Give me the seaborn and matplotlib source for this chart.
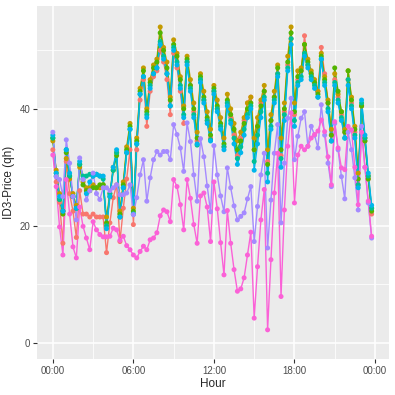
import numpy as np
import pandas as pd
import matplotlib
matplotlib.use("Agg")
import matplotlib.pyplot as plt
from matplotlib.ticker import FixedLocator
import seaborn as sns

# quarter-hour prices per series (96 values each)
red = [33, 27.5, 24, 17, 31, 25.5, 22.5, 18, 26, 22, 22, 21.5, 22, 21.5, 21.5, 21.5,
       15.4, 20.5, 24.8, 27, 17.3, 23, 28, 33, 20.2, 33, 41.5, 45, 37, 43, 45.5, 46.5,
       50, 48, 45, 39, 49.5, 47, 43, 37.5, 48, 44, 39.5, 34.5, 45, 41.5, 38, 35,
       43, 40, 37, 33.5, 41, 38.5, 35.5, 32, 35, 38, 41, 42, 33, 37, 41, 43,
       31, 38, 42, 46, 32, 39.5, 47.5, 52, 39, 45, 46.5, 52.5, 47.5, 46, 44.5, 43,
       50.5, 46, 41, 35.5, 45, 42, 39, 36, 45, 41, 36, 27, 40.5, 34.5, 28, 22]
olive = [34.5, 29.5, 25.5, 22.5, 31.5, 28, 25.5, 23.5, 30, 27.5, 26.5, 26.5, 27, 26.5, 26.5, 27,
         21.5, 25.5, 30, 32.5, 22.5, 27.5, 33.5, 37.5, 23, 35, 43.5, 47, 40, 45, 47.5, 48.5,
         54, 50.5, 48, 42, 51.8, 49.5, 45.5, 40.5, 49, 45, 41, 36, 46, 43, 39.5, 36.5,
         44, 41.5, 38.5, 35, 42.5, 40, 37.5, 34.5, 36, 38.5, 41, 42, 35, 38.5, 41.5, 44,
         33, 39, 43, 47.5, 35, 41, 49, 54, 41, 46.5, 47, 51, 48.5, 46.5, 45, 43,
         49.5, 45.5, 41.5, 36.5, 46, 42.5, 39.5, 36.5, 46.5, 42, 37, 29, 40.5, 35, 28.5, 23]
green = [35, 29, 24.5, 22, 32.5, 28.5, 25, 23, 30.5, 27, 26, 26, 26.5, 26.5, 27, 27,
         20.5, 25, 29.5, 32, 22, 27, 33, 37, 22.5, 34.5, 43, 46.5, 39.5, 44.5, 47, 48,
         53, 50, 47, 41.5, 51, 49, 45, 40, 48.5, 44, 40, 35, 45.5, 42, 38.5, 35.5,
         43.5, 40.5, 37.5, 34, 41.5, 39, 36.5, 33, 34.5, 37.5, 40, 41, 33, 37, 40.5, 43,
         30.5, 38, 42, 47, 33, 40, 48, 53, 39.5, 45.5, 46.5, 51, 48, 46, 44.5, 42.5,
         49, 45, 41, 35.5, 47, 43, 39.5, 36, 46.5, 41.5, 36.5, 28, 40.5, 34.5, 28, 22.5]
teal = [35, 28.5, 24.5, 22.5, 33, 28.5, 25, 23, 30.5, 28.5, 28.5, 28.8, 28.5, 28.8, 28.5, 28,
        20, 25.5, 29.5, 32.5, 21.5, 26.5, 32.5, 36.5, 22, 34, 42.5, 45.5, 39, 44, 46, 47,
        51.5, 49, 46, 40.5, 50.5, 48, 44, 39, 48, 43.5, 39, 33.8, 45, 41.5, 38, 34.7,
        43, 40, 37, 33.5, 41, 38, 35, 31.5, 33.5, 36.5, 39, 40.5, 31, 35.5, 39.5, 42,
        29, 37, 41.5, 46, 31.5, 39, 47, 52, 38, 44.5, 45.5, 49.5, 47.5, 45.5, 44, 42,
        48.5, 44.5, 40, 34.5, 44.5, 41.5, 38.5, 35, 45, 40.5, 35.5, 27, 41, 35, 28.5, 23]
cyan = [35.5, 29, 25, 22.5, 33, 29, 25, 23, 31, 28, 25.5, 27.5, 28.5, 28.8, 28.5, 28.5,
        19.5, 25, 30, 33, 21.5, 26.5, 32.5, 36.5, 22, 34, 42.5, 45.5, 38.5, 43.5, 46, 47,
        51, 48.5, 46, 40.5, 50, 47.5, 43.5, 38.5, 47.5, 43, 38.5, 34, 44.5, 41, 37.5, 34.5,
        42.5, 39.5, 36.5, 33, 40.5, 37.5, 34, 30.5, 32.5, 35.5, 38.5, 40, 29.5, 34, 38.5, 41.5,
        27.5, 36.5, 41, 45.5, 30, 38, 46.5, 51, 37, 44, 45, 49, 47, 45, 43.5, 42,
        48.5, 44, 39.5, 34.5, 44, 41, 38, 35, 44, 40, 35, 26.5, 41.5, 35.5, 29, 23.5]
purple = [36, 28.4, 27.9, 25, 34.7, 30.7, 25, 21, 31.6, 27.9, 24.4, 26, 29, 25.5, 24.5, 26.5,
          26.5, 26, 26.5, 27, 25.3, 25.3, 25.6, 27, 21.9, 24.8, 28.7, 31.3, 24.2, 28.2, 31.3, 32.7,
          32.1, 32.7, 32.7, 31.3, 37.3, 35.6, 33.3, 29.3, 37.6, 34.4, 28.7, 24.2, 34.9, 31.8, 26.8, 22.4,
          33.7, 28.7, 25.1, 22.4, 29.9, 26.5, 23.4, 21, 21.6, 22.2, 24.6, 26.7, 17.3, 23.3, 28.7, 32.4,
          16.2, 24.4, 32.4, 37.3, 20.5, 30.7, 38.4, 41.8, 31.3, 35.3, 38.4, 39.5, 33.6, 37, 35.5, 33.3,
          40.7, 35.5, 30.7, 26.7, 37.5, 33, 28.4, 24.6, 36, 33, 28.2, 22.7, 37, 30, 23.9, 17.9]
pink = [32.1, 26.7, 19.8, 15, 27.9, 22, 16.4, 14.5, 23.2, 19.9, 17.9, 15.9, 20.7, 19.3, 18.5, 18.1,
        18.1, 18.2, 19.6, 19.3, 17.5, 18.2, 16.6, 15.9, 15, 14.5, 15.6, 16.5, 15.9, 17.6, 17.9, 18.8,
        21.7, 22.7, 22.4, 20.7, 27.9, 26.7, 23.6, 19.3, 27.9, 24.7, 20.2, 17, 25.1, 25.6, 23.2, 17.3,
        27.5, 22.9, 17.1, 11.6, 22.6, 17, 12.5, 8.8, 9.2, 11.1, 15, 18.9, 4.2, 13, 21, 26.2,
        2.2, 14.2, 25.6, 32.4, 7.9, 22.7, 33.6, 39.3, 23.9, 32.1, 33.6, 33, 33.6, 35, 35.6, 36.2,
        38.1, 36.1, 31.8, 27, 37.8, 33.3, 29.9, 29.6, 37, 36.4, 30, 23.6, 36, 30, 24.2, 18.2]

series = {"d1": red, "d2": olive, "d3": green, "d4": teal,
          "d5": cyan, "d6": purple, "d7": pink}
palette = ["#F8766D", "#C49A00", "#53B400", "#00C094", "#00B6EB", "#A58AFF", "#FB61D7"]

hour_ticks = [0, 6, 12, 18, 24]
hour_labels = ["00:00", "06:00", "12:00", "18:00", "00:00"]

rows = []
for name, vals in series.items():
    for i, v in enumerate(vals):
        rows.append({"day": name, "hour": i * 0.25, "price": v})
df = pd.DataFrame(rows)

sns.set_style("darkgrid", {"axes.facecolor": "#EBEBEB", "grid.color": "white"})
plt.rcParams["font.family"] = ["Liberation Sans", "DejaVu Sans"]

fig = plt.figure(figsize=(3.95, 3.95), dpi=100)
ax = fig.add_axes([0.093, 0.091, 0.892, 0.894])

sns.lineplot(data=df, x="hour", y="price", hue="day", palette=palette,
             estimator=None, linewidth=1.0, legend=False, ax=ax, zorder=3)
sns.scatterplot(data=df, x="hour", y="price", hue="day", palette=palette,
                s=13, linewidth=0, legend=False, ax=ax, zorder=4)

ax.set_xlim(-1.2, 25.05)
ax.set_ylim(-2.8, 57.6)
ax.set_xticks(hour_ticks)
ax.set_xticklabels(hour_labels)
ax.set_yticks([0, 20, 40])
ax.xaxis.set_minor_locator(FixedLocator([3, 9, 15, 21]))
ax.yaxis.set_minor_locator(FixedLocator([10, 30, 50]))
ax.grid(which="major", color="white", linewidth=1.1)
ax.grid(which="minor", color="white", linewidth=0.55)
ax.set_axisbelow(True)
for s in ax.spines.values():
    s.set_visible(False)
ax.tick_params(which="major", length=2.7, width=0.8, color="#333333",
               labelsize=7, labelcolor="#4D4D4D", pad=2, bottom=True, left=True)
ax.tick_params(which="minor", length=0)
ax.set_xlabel("Hour", fontsize=8.5, labelpad=2)
ax.set_ylabel("ID3-Price (qh)", fontsize=8.5, labelpad=3)

fig.savefig("out.png", dpi=100)
